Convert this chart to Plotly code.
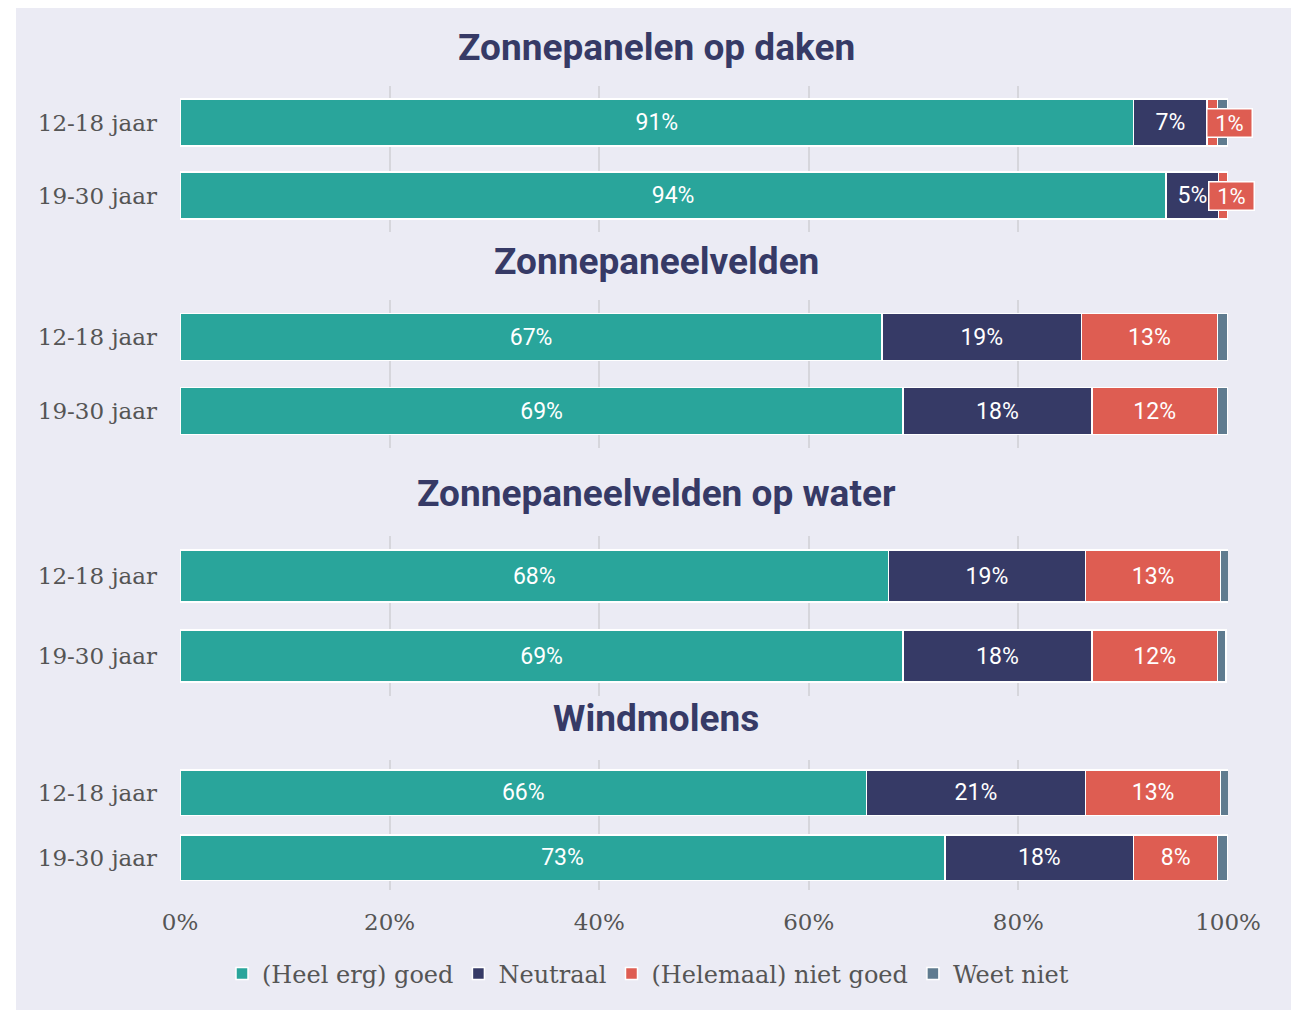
import plotly.graph_objects as go
from plotly.subplots import make_subplots

panels = ["Zonnepanelen op daken", "Zonnepaneelvelden", "Zonnepaneelvelden op water", "Windmolens"]
age_groups = ["12-18 jaar", "19-30 jaar"]
series_names = ["(Heel erg) goed", "Neutraal", "(Helemaal) niet goed", "Weet niet"]
x_ticks = [0, 20, 40, 60, 80, 100]
x_tick_labels = ["0%", "20%", "40%", "60%", "80%", "100%"]

# values per panel: [12-18, 19-30]
goed = [[91.0, 94.1], [67.0, 69.0], [67.6, 69.0], [65.5, 73.0]]
neutraal = [[7.0, 5.0], [19.0, 18.0], [18.8, 18.0], [20.9, 18.0]]
niet_goed = [[1.0, 0.9], [13.0, 12.0], [12.9, 12.0], [12.9, 8.0]]
weet_niet = [[1.0, 0.0], [1.0, 1.0], [0.8, 0.8], [0.9, 1.0]]

colors = ["#29a59b", "#363a66", "#de5d52", "#5f7b8f"]
BG = "#ebebf4"
OFF = 8  # page body margin
W, H = 1299 - OFF, 1010 - OFF
ML, MR = 180 - OFF, 1299 - 1228

# pixel ranges (reference coords) for each panel's band (top, bottom), bar width fraction
bands = [(86, 232, 0.64), (300, 448, 0.64), (536, 696, 0.65), (760, 890, 0.70)]
title_y = [48, 261, 494, 718]

fig = make_subplots(rows=4, cols=1)

series = [goed, neutraal, niet_goed, weet_niet]
for p in range(4):
    for s in range(4):
        vals = series[s][p]
        txt = [f"{round(v)}%" if v >= 3 else "" for v in vals]
        fig.add_trace(go.Bar(
            y=age_groups, x=vals, orientation="h", name=series_names[s],
            marker=dict(color=colors[s], line=dict(color="white", width=1.5)),
            text=txt, textposition="inside", insidetextanchor="middle",
            textfont=dict(color="white", size=23, family="Roboto"),
            width=bands[p][2], showlegend=(p == 0), legendgroup=series_names[s],
            hoverinfo="skip",
        ), row=p + 1, col=1)
    # small red segments shown as boxed labels
    for i in range(2):
        r = niet_goed[p][i]
        if r < 3:
            fig.add_annotation(
                x=99.9, y=age_groups[i], xref="x" if p == 0 else f"x{p+1}",
                yref="y" if p == 0 else f"y{p+1}", xshift=3 + 2 * i,
                text=f"{round(r)}%", showarrow=False, width=42, height=25,
                font=dict(color="white", size=22, family="Roboto"),
                bgcolor=colors[2], bordercolor="white", borderwidth=1.5, borderpad=1,
                xanchor="center", yanchor="middle")


def ydom(top, bot):
    return [1 - (bot - OFF) / H, 1 - (top - OFF) / H]


tickfont = dict(family="DejaVu Serif", size=23, color="#555555")
for p in range(4):
    yk = "yaxis" if p == 0 else f"yaxis{p+1}"
    xk = "xaxis" if p == 0 else f"xaxis{p+1}"
    top, bot, _ = bands[p]
    fig.layout[yk].update(domain=ydom(top, bot), autorange="reversed", showgrid=False,
                          tickfont=tickfont, ticks="", ticklabelstandoff=22, zeroline=False)
    fig.layout[xk].update(range=[0, 100], showgrid=True, gridcolor="#d6d6dc", gridwidth=2,
                          tickmode="array", tickvals=x_ticks, ticktext=x_tick_labels,
                          zeroline=False, showticklabels=(p == 3), tickfont=tickfont,
                          ticklabelstandoff=16)
    fig.add_annotation(text=f"<b>{panels[p]}</b>", xref="paper", yref="paper",
                       x=(656 - OFF - ML) / (W - ML - MR), y=1 - (title_y[p] - OFF) / H,
                       showarrow=False, xanchor="center", yanchor="middle",
                       font=dict(family="Roboto", size=37, color="#363a66"))

fig.update_layout(
    width=W, height=H, barmode="stack",
    margin=dict(l=ML, r=MR, t=0, b=0),
    paper_bgcolor=BG, plot_bgcolor=BG,
    legend=dict(orientation="h", x=(222 - OFF - ML) / (W - ML - MR), y=1 - (974 - OFF) / H,
                xanchor="left", yanchor="middle",
                font=dict(family="DejaVu Serif", size=24, color="#555555"),
                traceorder="normal", itemwidth=30, bgcolor="rgba(0,0,0,0)"),
    font=dict(family="DejaVu Serif"),
)

# white left margin of the composite image
fig.add_shape(type="rect", xref="paper", yref="paper",
              x0=-ML / (W - ML - MR), x1=-(ML - (16 - OFF)) / (W - ML - MR),
              y0=0, y1=1, fillcolor="white", line_width=0, layer="below")

fig.write_html("out.html")
